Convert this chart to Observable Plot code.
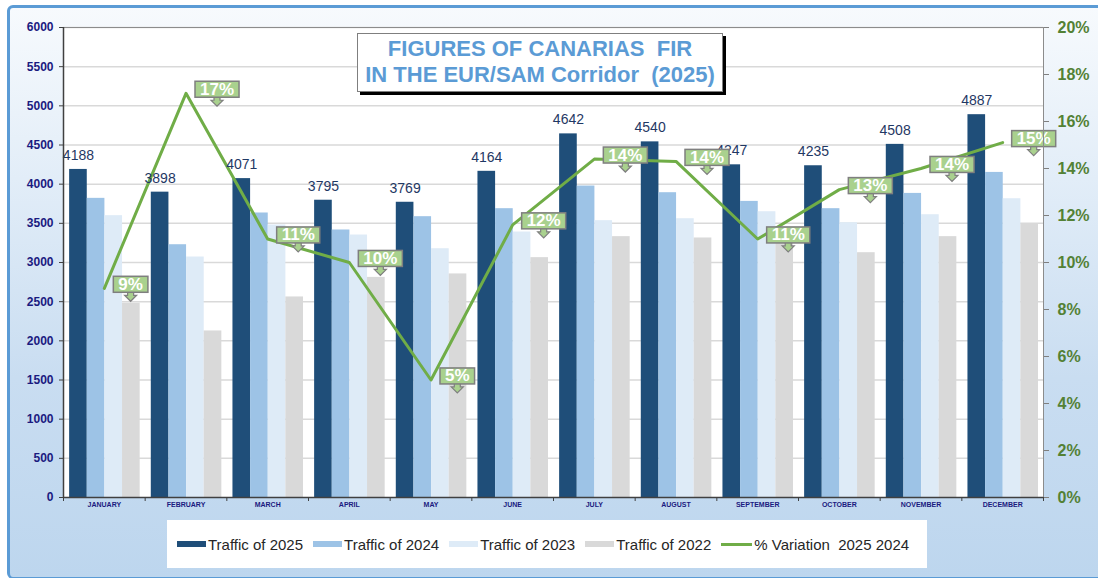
<!DOCTYPE html>
<html>
<head>
<meta charset="utf-8">
<script src="https://cdn.jsdelivr.net/npm/d3@7"></script>
<script src="https://cdn.jsdelivr.net/npm/@observablehq/plot@0.6"></script>
<style>
  html, body { margin: 0; padding: 0; width: 1098px; height: 578px; overflow: hidden; background: #ffffff; }
  #wrap { position: relative; width: 1098px; height: 578px; overflow: hidden; font-family: "Liberation Sans", Arial, sans-serif; }
  #bg { position: absolute; left: 7px; top: 5px; width: 1110px; height: 569px; border: 3px solid #5b9bd5; border-bottom-width: 2px; border-radius: 6px;
        background: linear-gradient(to bottom, #f7fafd 0%, #e2edf8 30%, #c9ddf1 65%, #bdd6ee 100%); }
  #chart { position: absolute; left: 0; top: 0; }
  #title { position: absolute; left: 357px; top: 33px; width: 364px; height: 55px; background: #fff; border: 1px solid #7f7f7f;
           box-shadow: 3px 3px 0 #000; text-align: center; color: #5b9bd5; font: bold 22px "Liberation Sans", Arial, sans-serif;
           line-height: 26px; padding-top: 2px; box-sizing: content-box; white-space: pre; }
  #legend { position: absolute; left: 167px; top: 520px; width: 760px; height: 48px; background: #fff; display: flex; align-items: center;
            padding-left: 10px; box-sizing: border-box; font: 15px "Liberation Sans", Arial, sans-serif; color: #262626; }
  .item { display: flex; align-items: center; margin-right: 10px; white-space: pre; }
  .sw { width: 29px; height: 6px; margin-right: 2px; }
  .ln { width: 31px; height: 3px; margin-right: 2px; background: #70ad47; }
</style>
</head>
<body>
<div id="wrap">
  <div id="bg"></div>
  <div id="chart"></div>
  <div id="title"></div>
  <div id="legend"></div>
</div>
<script>
// ---- data ----
const months = ["JANUARY","FEBRUARY","MARCH","APRIL","MAY","JUNE","JULY","AUGUST","SEPTEMBER","OCTOBER","NOVEMBER","DECEMBER"];
const traffic2025 = [4188, 3898, 4071, 3795, 3769, 4164, 4642, 4540, 4247, 4235, 4508, 4887];
const traffic2024 = [3819, 3227, 3632, 3415, 3585, 3687, 3976, 3891, 3780, 3687, 3882, 4150];
const traffic2023 = [3598, 3070, 3479, 3351, 3176, 3389, 3534, 3559, 3648, 3508, 3610, 3814];
const traffic2022 = [2480, 2126, 2560, 2810, 2854, 3062, 3330, 3313, 3340, 3125, 3330, 3486];
const variation = [8.9, 17.2, 11.0, 10.0, 5.0, 11.6, 14.4, 14.3, 11.0, 13.1, 14.0, 15.1];
const leftTicks = d3.range(0, 6001, 500);
const rightTicksPct = d3.range(0, 21, 2);
const titleLines = ["FIGURES OF CANARIAS  FIR", "IN THE EUR/SAM Corridor  (2025)"];
const seriesNames = ["Traffic of 2025", "Traffic of 2024", "Traffic of 2023", "Traffic of 2022"];
const lineName = "% Variation  2025 2024";

// ---- styles ----
const colors = ["#1f4e79", "#9dc3e6", "#deebf7", "#d9d9d9"];
const green = "#70ad47";
const navy = "#1a1a80";
const pctScale = 300; // 20% -> 6000 on shared y scale
const groupPad = 0.075, barW = 0.216;

const series = [traffic2025, traffic2024, traffic2023, traffic2022];
const barMarks = series.map((arr, k) => Plot.rectY(arr, {
  x1: (d, i) => i - 0.5 + groupPad + k * barW,
  x2: (d, i) => i - 0.5 + groupPad + (k + 1) * barW,
  y1: 0, y2: d => d,
  fill: colors[k]
}));

const chart = Plot.plot({
  width: 1098,
  height: 578,
  marginLeft: 63,
  marginRight: 55,
  marginTop: 27,
  marginBottom: 81,
  style: { fontFamily: "'Liberation Sans', Arial, sans-serif", background: "transparent", overflow: "visible" },
  x: { type: "linear", domain: [-0.5, 11.5] },
  y: { domain: [0, 6000] },
  marks: [
    Plot.frame({ fill: "white", stroke: null }),
    Plot.gridY({ ticks: leftTicks.filter(t => t > 0), stroke: "#d9d9d9", strokeOpacity: 1, strokeWidth: 1.5 }),
    ...barMarks,
    Plot.lineY(variation, { x: (d, i) => i, y: d => d * pctScale, stroke: green, strokeWidth: 3 }),
    Plot.text(traffic2025, {
      x: (d, i) => i - 0.5 + groupPad + 0.5 * barW, y: d => d, text: d => String(d),
      dy: -14, fill: "#1f3864", fontSize: 14
    }),
    Plot.text(variation, {
      x: (d, i) => i, y: d => d * pctScale, text: d => Math.round(d) + "%",
      textAnchor: "start", dx: 14, dy: -4, fill: "white", fontSize: 17, fontWeight: "bold", className: "pctlbl"
    }),
    Plot.frame({ stroke: "#8c8c8c", fill: null }),
    Plot.ruleX([-0.5], { stroke: "#404040", strokeWidth: 1.5 }),
    Plot.ruleY([0], { stroke: "#404040", strokeWidth: 1.5 }),
    Plot.axisY({ ticks: leftTicks, tickSize: 4, tickPadding: 6, label: null, stroke: "#404040", fill: navy,
                 fontSize: 12, fontWeight: "bold", tickFormat: d => String(d) }),
    Plot.axisY({ anchor: "right", ticks: rightTicksPct.map(p => p * pctScale), tickSize: 5, tickPadding: 9, label: null,
                 stroke: "#7f7f7f", fill: "#538135", fontSize: 16, fontWeight: "bold", tickFormat: d => Math.round(d / pctScale) + "%" }),
    Plot.axisX({ ticks: d3.range(0, 12), tickSize: 0, tickPadding: 5, label: null, fill: navy,
                 fontSize: 7, fontWeight: "bold", tickFormat: i => months[i] }),
    Plot.axisX({ ticks: d3.range(-0.5, 12, 1), tickSize: 4, label: null, stroke: "#404040", tickFormat: () => "" })
  ]
});
document.getElementById("chart").appendChild(chart);

// callout boxes behind percentage labels
(function () {
  let g = chart.querySelector(".pctlbl");
  if (!g) g = [...chart.querySelectorAll("g")].find(e => e.getAttribute("fill") === "white");
  if (!g) return;
  const ns = "http://www.w3.org/2000/svg";
  g.querySelectorAll("text").forEach(t => {
    const bb = t.getBBox();
    const tr = t.getAttribute("transform");
    const cy = bb.y + bb.height / 2;
    const top = cy - 8, bottom = cy + 8;
    const cx = bb.x + bb.width / 2;
    const arrow = document.createElementNS(ns, "path");
    arrow.setAttribute("d", `M${cx - 3},${bottom - 1}V${bottom + 3}H${cx - 6}L${cx},${bottom + 9}L${cx + 6},${bottom + 3}H${cx + 3}V${bottom - 1}Z`);
    arrow.setAttribute("fill", "#a9d18e");
    arrow.setAttribute("stroke", "#7f7f7f");
    arrow.setAttribute("stroke-width", "1.2");
    const rect = document.createElementNS(ns, "rect");
    rect.setAttribute("x", bb.x - 5);
    rect.setAttribute("y", top);
    rect.setAttribute("width", bb.width + 10);
    rect.setAttribute("height", 16);
    rect.setAttribute("fill", "#a9d18e");
    rect.setAttribute("stroke", "#7f7f7f");
    rect.setAttribute("stroke-width", "1.5");
    if (tr) { arrow.setAttribute("transform", tr); rect.setAttribute("transform", tr); }
    g.insertBefore(arrow, t);
    g.insertBefore(rect, t);
  });
})();

document.getElementById("title").textContent = titleLines.join("\n");

const legend = document.getElementById("legend");
seriesNames.forEach((name, k) => {
  const it = document.createElement("div");
  it.className = "item";
  it.innerHTML = `<div class="sw" style="background:${colors[k]}"></div><span></span>`;
  it.querySelector("span").textContent = name;
  legend.appendChild(it);
});
const li = document.createElement("div");
li.className = "item";
li.innerHTML = `<div class="ln"></div><span></span>`;
li.querySelector("span").textContent = lineName;
legend.appendChild(li);
</script>
</body>
</html>
